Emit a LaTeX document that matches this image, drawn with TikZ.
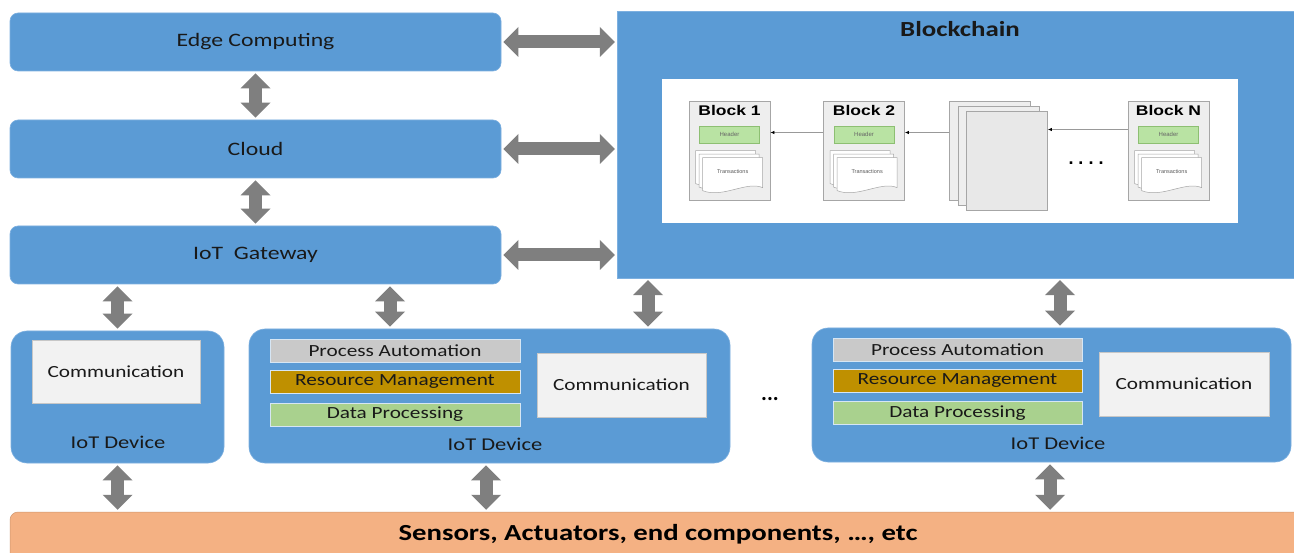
\documentclass[tikz,border=0pt]{standalone}
\usepackage{graphicx}
\usepackage{fontspec}
\setmainfont{Carlito}
\newfontfamily\arialfont{Liberation Sans}
\usetikzlibrary{arrows.meta,calc}

\definecolor{boxblue}{HTML}{5B9BD5}
\definecolor{boxedge}{HTML}{7DB0E0}
\definecolor{arrowgray}{HTML}{7F7F7F}
\definecolor{autogray}{HTML}{C9C9C9}
\definecolor{resgold}{HTML}{BF9000}
\definecolor{datagreen}{HTML}{A9D18E}
\definecolor{commgray}{HTML}{F2F2F2}
\definecolor{sensorange}{HTML}{F4B183}
\definecolor{blockfill}{HTML}{EEEEEE}
\definecolor{blockedge}{HTML}{A6A6A6}
\definecolor{headgreen}{HTML}{B9E3A3}
\definecolor{headedge}{HTML}{8DBF72}

% text set slightly wider than the font's natural width
\newcommand\stretchtext[1]{\scalebox{1.25}[1]{#1}}

\tikzset{
  pics/txstack/.style={code={
    \foreach \o in {0,3.5,7}{
      \path[draw=blockedge, fill=white, line width=0.5pt]
        (\o,\o) -- (\o+60,\o) -- (\o+60,\o+30)
        .. controls (\o+44,\o+23) and (\o+20,\o+41) .. (\o,\o+33) -- cycle;
    }
    \node[font=\arialfont\fontsize{5.5}{6}\selectfont, text=black!65, inner sep=0pt] (-label) at (37,21) {Transactions};
  }}
}

\begin{document}
\begin{tikzpicture}[x=1pt,y=-1pt,
  tier/.style={draw=boxedge, line width=0.6pt, fill=boxblue, rounded corners=8pt,
    minimum width=491pt, minimum height=58pt, inner sep=0pt,
    font=\fontsize{19}{22}\selectfont, text=black!90},
  device/.style={draw=boxedge, line width=0.6pt, fill=boxblue, rounded corners=16pt, inner sep=0pt},
  devlabel/.style={font=\fontsize{18}{20}\selectfont, inner sep=0pt, text=black!90},
  layer/.style={draw=white!75!boxblue, line width=0.6pt, minimum width=250pt, minimum height=23pt,
    inner sep=0pt, font=\fontsize{17}{19}\selectfont, text=black!90},
  comm/.style={draw=black!22, fill=commgray, line width=0.5pt, minimum width=168pt,
    minimum height=63pt, inner sep=0pt, font=\fontsize{17}{19}\selectfont, text=black!90},
  bigarrow/.style={draw=arrowgray, line width=13pt,
    >={Triangle[width=30pt,length=15pt,line width=0pt]}, <->, shorten <=2pt, shorten >=2pt},
  chainblock/.style={draw=blockedge, fill=blockfill, line width=0.7pt, minimum width=81pt,
    minimum height=99pt, inner sep=0pt},
  blocktitle/.style={font=\arialfont\bfseries\fontsize{14}{16}\selectfont, inner sep=0pt},
  header/.style={draw=headedge, fill=headgreen, line width=0.5pt, minimum width=60pt,
    minimum height=17pt, inner sep=0pt, font=\arialfont\fontsize{6}{7}\selectfont, text=black!60},
  link/.style={draw=black!40, line width=0.7pt, -{Latex[color=black,length=4pt,width=3.5pt]}},
]
\useasboundingbox (0,0) rectangle (1294,553);
\clip (0,0) rectangle (1294,553);
\fill[white] (0,0) rectangle (1294,553);

% upper tiers
\node[tier] (edge)  at (255.5,42)  {\stretchtext{Edge Computing}};
\node[tier] (cloud) at (255.5,149) {\stretchtext{Cloud}};
\node[tier] (gw)    at (255.5,255) {\stretchtext{IoT\ \ Gateway}};

% blockchain panel
\node[draw=boxedge, fill=boxblue, minimum width=683pt, minimum height=267pt, inner sep=0pt] (chain) at (958.5,144.5) {};
\node[font=\bfseries\fontsize{21.5}{24}\selectfont, text=black!90] (chaintitle) at (960,29) {\stretchtext{Blockchain}};
\node[fill=white, minimum width=576pt, minimum height=144pt, inner sep=0pt] (ledger) at (950,151) {};

\foreach \id/\cx/\name in {b1/729.5/Block 1, b2/864/Block 2, bn/1168.5/Block N}{
  \node[chainblock] (\id) at (\cx,150.5) {};
  \node[blocktitle] (\id-title) at ($(\id.north)+(0,10)$) {\stretchtext{\name}};
  \node[header] (\id-head) at ($(\id.north)+(0,34)$) {Header};
  \pic (\id-tx) at ($(\id.north west)+(7,50)$) {txstack};
}
\node[chainblock] (s1) at (990,150.5) {};
\node[chainblock] (s2) at (998.5,155.5) {};
\node[chainblock, fill=black!9] (s3) at (1007,160.5) {};

\draw[link] ([yshift=18pt]b2.west) -- ([yshift=18pt]b1.east);
\draw[link] ([yshift=18pt]s1.west) -- ([yshift=18pt]b2.east);
\coordinate (nlink) at ([yshift=21pt]bn.west);
\draw[link] (nlink) -- (nlink -| s3.east);
\node[font=\arialfont\bfseries\fontsize{18}{18}\selectfont, inner sep=0pt] (more) at (1086,163) {.\hspace{5pt}.\hspace{5pt}.\hspace{5pt}.};

% IoT devices
\node[device, minimum width=213pt, minimum height=132pt] (dev1) at (117.5,397) {};
\node[comm] (comm1) at (116,372) {\stretchtext{Communication}};
\node[devlabel] (lbl1) at (118,442) {\stretchtext{IoT Device}};

\node[device, minimum width=481pt, minimum height=134pt] (dev2) at (489.5,396) {};
\node[layer, fill=autogray] (pa2) at (395,350.5) {\stretchtext{Process Automation}};
\node[layer, fill=resgold] (rm2) at (395,382) {\stretchtext{Resource Management}};
\node[layer, fill=datagreen] (dp2) at (395,414.5) {\stretchtext{Data Processing}};
\node[comm, minimum width=169pt, minimum height=64pt] (comm2) at (621.5,385) {\stretchtext{Communication}};
\node[devlabel] (lbl2) at (495,444) {\stretchtext{IoT Device}};

\node[font=\bfseries\fontsize{22}{22}\selectfont, inner sep=0pt] (gap) at (770,399) {...};

\node[device, minimum width=479pt, minimum height=134pt] (dev3) at (1051.5,395) {};
\node[layer, fill=autogray, minimum width=249pt] (pa3) at (957.5,349.5) {\stretchtext{Process Automation}};
\node[layer, fill=resgold, minimum width=249pt] (rm3) at (957.5,380.5) {\stretchtext{Resource Management}};
\node[layer, fill=datagreen, minimum width=249pt] (dp3) at (957.5,413) {\stretchtext{Data Processing}};
\node[comm, minimum width=170pt, minimum height=64pt] (comm3) at (1184,384) {\stretchtext{Communication}};
\node[devlabel] (lbl3) at (1058,443) {\stretchtext{IoT Device}};

% physical layer
\node[fill=sensorange, draw=sensorange!85!black, line width=0.5pt, rounded corners=8pt,
  minimum width=1300pt, minimum height=60pt, inner sep=0pt] (sens) at (660,542) {};
\node[font=\bfseries\fontsize{23}{26}\selectfont, inner sep=0pt] (senstext) at (658,534)
  {\stretchtext{Sensors, Actuators, end components, …, etc}};

% bidirectional links
\coordinate (x390) at (390,0);
\coordinate (x648) at (648,0);
\coordinate (x1060) at (1060,0);
\coordinate (x486) at (486,0);
\coordinate (x1050) at (1050,0);

\draw[bigarrow] (edge.south) -- (cloud.north);
\draw[bigarrow] (cloud.south) -- (gw.north);
\draw[bigarrow] (edge.east) -- (edge.east -| chain.west);
\draw[bigarrow] (cloud.east) -- (cloud.east -| chain.west);
\draw[bigarrow] (gw.east) -- (gw.east -| chain.west);
\draw[bigarrow] (dev1.north |- gw.south) -- (dev1.north);
\draw[bigarrow] (x390 |- gw.south) -- (x390 |- dev2.north);
\draw[bigarrow] (x648 |- chain.south) -- (x648 |- dev2.north);
\draw[bigarrow] (x1060 |- chain.south) -- (x1060 |- dev3.north);
\draw[bigarrow] (dev1.south) -- (dev1.south |- sens.north);
\draw[bigarrow] (x486 |- dev2.south) -- (x486 |- sens.north);
\draw[bigarrow] (x1050 |- dev3.south) -- (x1050 |- sens.north);
\end{tikzpicture}
\end{document}
